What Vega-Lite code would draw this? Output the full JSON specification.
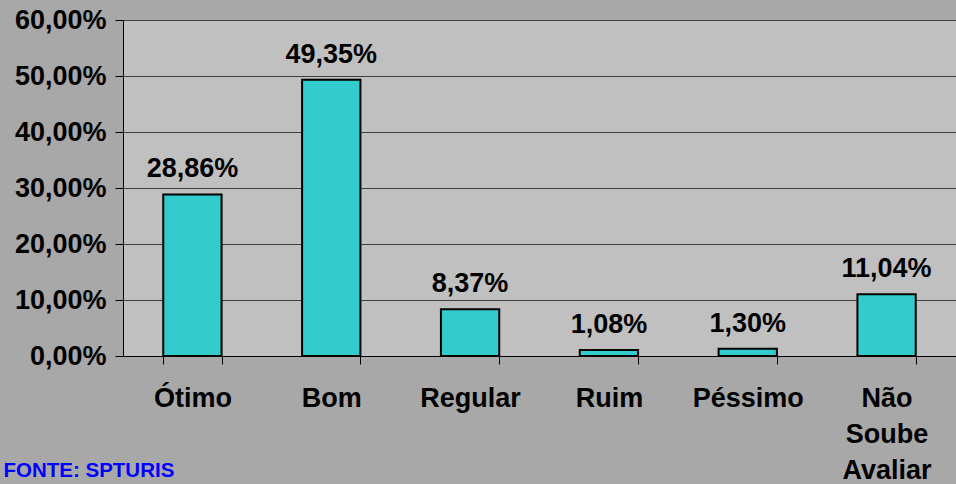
{
  "$schema": "https://vega.github.io/schema/vega-lite/v6.json",
  "width": 833,
  "height": 336,
  "autosize": {"type": "none"},
  "padding": {"left": 123, "top": 20, "right": 0, "bottom": 128},
  "background": "#a8a8a8",
  "config": {
    "locale": {"number": {"decimal": ",", "thousands": ".", "grouping": [3], "currency": ["R$", ""]}},
    "view": {"fill": "#c0c0c0", "stroke": null},
    "font": "Liberation Sans"
  },
  "data": {
    "values": [
      {"categoria": "Ótimo", "valor": 0.2886},
      {"categoria": "Bom", "valor": 0.4935},
      {"categoria": "Regular", "valor": 0.0837},
      {"categoria": "Ruim", "valor": 0.0108},
      {"categoria": "Péssimo", "valor": 0.0130},
      {"categoria": "Não Soube Avaliar", "valor": 0.1104}
    ]
  },
  "encoding": {
    "x": {
      "field": "categoria",
      "type": "nominal",
      "sort": null,
      "scale": {"paddingInner": 0.58, "paddingOuter": 0.29},
      "axis": {
        "title": null,
        "labelAngle": 0,
        "labelFontSize": 27,
        "labelFontWeight": "bold",
        "labelColor": "#000000",
        "labelExpr": "split(datum.label, ' ')",
        "labelLineHeight": 36,
        "labelBaseline": "top",
        "labelPadding": 21,
        "tickBand": "extent",
        "tickSize": 8,
        "tickColor": "#000000",
        "domainColor": "#000000",
        "grid": false
      }
    },
    "y": {
      "field": "valor",
      "type": "quantitative",
      "scale": {"domain": [0, 0.6]},
      "axis": {
        "values": [0, 0.1, 0.2, 0.3, 0.4, 0.5, 0.6],
        "format": ".2%",
        "labelFontSize": 27,
        "labelFontWeight": "bold",
        "labelColor": "#000000",
        "labelPadding": 9,
        "tickSize": 8,
        "tickColor": "#000000",
        "domainColor": "#000000",
        "gridColor": "#404040",
        "gridOpacity": 1,
        "title": "FONTE: SPTURIS",
        "titleX": -120,
        "titleY": 456,
        "titleAngle": 0,
        "titleAlign": "left",
        "titleBaseline": "alphabetic",
        "titleColor": "#0000ff",
        "titleFont": "Liberation Sans",
        "titleFontSize": 20.5,
        "titleFontWeight": "bold"
      }
    }
  },
  "layer": [
    {"mark": {"type": "bar", "fill": "#33cccc", "stroke": "#000000", "strokeWidth": 2}},
    {
      "mark": {"type": "text", "dy": -17, "baseline": "alphabetic", "fontSize": 27, "fontWeight": "bold", "color": "#000000"},
      "encoding": {"text": {"field": "valor", "type": "quantitative", "format": ".2%"}}
    }
  ]
}
